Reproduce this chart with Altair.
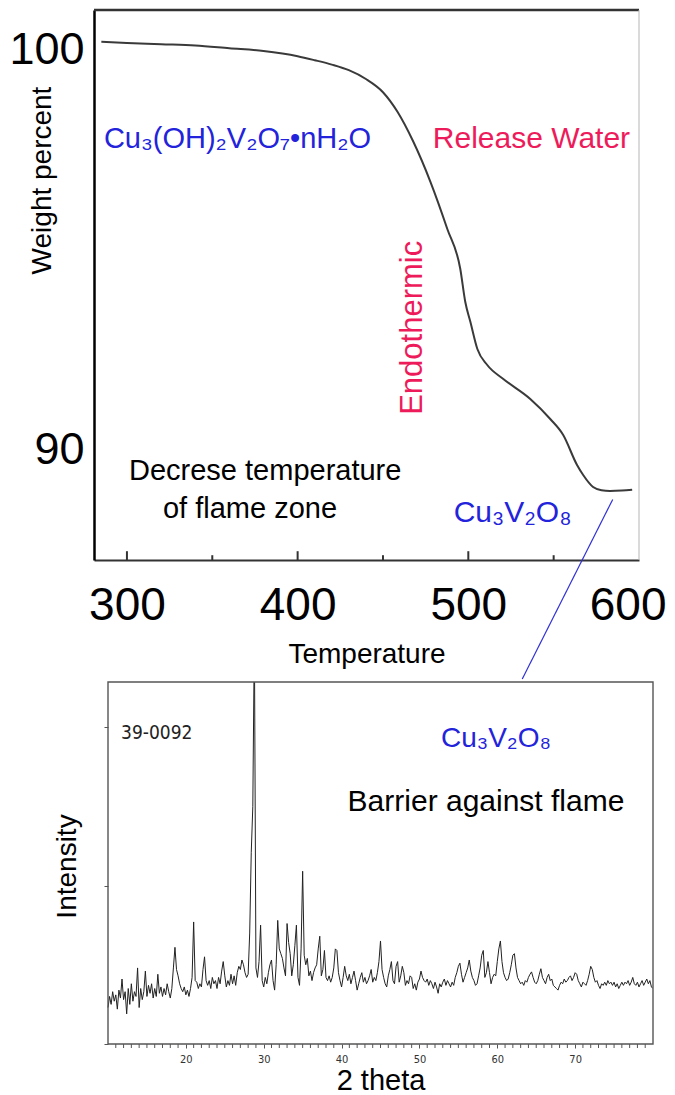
import altair as alt
import pandas as pd

# ---------------- data: TGA curve (top panel) ----------------
tga_temperature = [285, 300, 320, 340, 360, 380, 400, 410, 420, 430, 440, 450,
                   458.5, 467.8, 477.8, 487.7, 495.3, 498.2, 501.2, 505.3, 511.1,
                   520.5, 536.3, 548, 555.6, 563.7, 567.3, 573.1, 578, 583, 590, 596]
tga_weight = [100.18, 100.15, 100.12, 100.09, 100.02, 99.95, 99.82, 99.72, 99.61,
              99.47, 99.25, 98.92, 98.43, 97.68, 96.68, 95.5, 94.5, 93.68, 93.18,
              92.5, 92.1, 91.75, 91.25, 90.75, 90.35, 89.6, 89.35, 89.05, 88.97,
              88.95, 88.96, 88.98]
top_x_labels = [300, 400, 500, 600]
top_y_labels = [90, 100]
top_tick_values = [300, 350, 400, 450, 500, 550]

# ---------------- data: XRD pattern (bottom panel) ----------------
xrd_start = 10.0
xrd_step = 0.2
xrd_intensity = [
    230, 300, 250, 330, 270, 310, 220, 340, 290, 410,
    280, 330, 190, 350, 250, 380, 270, 330, 300, 480,
    230, 350, 280, 330, 460, 300, 370, 320, 380, 290,
    350, 300, 440, 320, 360, 300, 350, 310, 380, 330,
    290, 350, 480, 610, 470, 430, 380, 350, 330, 360,
    310, 340, 300, 350, 420, 770, 400, 390, 350, 380,
    360, 470, 550, 400, 370, 400, 350, 420, 380, 400,
    350, 420, 380, 460, 520, 430, 360, 400, 370, 440,
    380, 430, 370, 450, 490, 470, 530, 500, 450, 420,
    440, 700, 1210, 1500, 2600, 480, 420, 520, 750, 400,
    360, 420, 380, 450, 500, 530, 400, 340, 500, 780,
    600, 570, 540, 480, 430, 760, 640, 570, 430, 500,
    620, 750, 420, 370, 600, 1090, 560, 500, 540, 430,
    460, 400, 450, 480, 500, 600, 680, 430, 470, 590,
    420, 400, 430, 390, 420, 480, 600, 590, 450, 400,
    360, 420, 490, 430, 400, 440, 380, 420, 460, 400,
    340, 380, 420, 450, 390, 420, 380, 400, 430, 470,
    390, 420, 400, 450, 520, 650, 470, 420, 380, 360,
    430, 470, 520, 400, 380, 490, 520, 390, 430, 490,
    450, 370, 400, 380, 430, 420, 350, 380, 340, 390,
    410, 460, 420, 400, 390, 410, 370, 400, 380, 350,
    390, 360, 320, 380, 360, 390, 410, 370, 400, 380,
    360, 390, 370, 420, 450, 490, 510, 440, 390, 420,
    450, 480, 530, 460, 420, 400, 370, 380, 430, 480,
    560, 590, 420, 450, 520, 450, 380, 420, 440, 430,
    520, 600, 650, 520, 450, 420, 400, 410, 450, 500,
    560, 570, 480, 420, 400, 380, 390, 370, 400, 390,
    420, 440, 455, 420, 390, 380, 400, 440, 475, 420,
    400, 380, 420, 440, 400, 410, 370, 360, 350, 340,
    370, 390, 380, 410, 390, 400, 420, 430, 400, 420,
    450, 440, 400, 380, 360, 390, 380, 370, 400, 440,
    490, 470, 420, 390, 400, 370, 350, 380, 370, 390,
    370, 400, 380, 390, 370, 390, 360, 380, 350, 370,
    390, 370, 390, 380, 400, 370, 390, 420, 380, 370,
    390, 360, 380, 400, 370, 390, 410, 380, 400, 360,
    350,
]
bottom_y_ticks = [0, 1000, 2000]
bottom_x_labels = [20, 30, 40, 50, 60, 70]
bottom_x_minor = [v for v in range(11, 80) if v % 10 != 0]

# ---------------- text ----------------
txt_hydrate = "Cu\u2083(OH)\u2082V\u2082O\u2087\u2022nH\u2082O"
txt_release = "Release Water"
txt_endo = "Endothermic"
txt_decrease_1 = "Decrese temperature"
txt_decrease_2 = "of flame zone"
txt_product = "Cu\u2083V\u2082O\u2088"
txt_card = "39-0092"
txt_barrier = "Barrier against flame"

FONT = "Liberation Sans, Arial, sans-serif"
NARROW = "Liberation Sans Narrow, DejaVu Sans Condensed, Arial Narrow, sans-serif"
BLUE = "#2323dc"
PINK = "#ee1b5b"

one = pd.DataFrame({"k": [0]})

# ================= top panel =================
T_MIN, T_MAX = 280.7, 600.0
W_MIN, W_MAX = 87.225, 100.975
xs_top = alt.Scale(domain=[T_MIN, T_MAX], nice=False, zero=False)
ys_top = alt.Scale(domain=[W_MIN, W_MAX], nice=False, zero=False)

tga = pd.DataFrame({"T": tga_temperature, "W": tga_weight})

tga_line = alt.Chart(tga).mark_line(color="#3a3a3a", strokeWidth=2, interpolate="monotone").encode(
    x=alt.X("T:Q", scale=xs_top,
            axis=alt.Axis(values=top_x_labels, tickSize=0, labelFontSize=46, labelPadding=23,
                          labelFlush=True, labelFlushOffset=27, labelColor="black",
                          domainColor="#333", domainWidth=2,
                          grid=False, title="Temperature", titleFontSize=28, titleFontWeight="normal",
                          titlePadding=12, titleColor="black")),
    y=alt.Y("W:Q", scale=ys_top,
            axis=alt.Axis(values=top_y_labels, tickSize=0, labelFontSize=45, labelPadding=10,
                          labelColor="black", domainColor="black", domainWidth=2.5, grid=False,
                          title="Weight percent", titleFontSize=28, titleFontWeight="normal",
                          titleX=-52, titleY=170, titleBaseline="middle", titleColor="black")),
)

tick_df = pd.DataFrame({"T": top_tick_values})
tick_df["base"] = W_MIN
tick_df["top"] = [W_MIN + (0.22 if v % 100 == 0 else 0.12) for v in top_tick_values]
top_ticks = alt.Chart(tick_df).mark_rule(color="#333", strokeWidth=2).encode(
    x="T:Q", y="base:Q", y2="top:Q")

top_border = alt.Chart(one).mark_rule(color="#333", strokeWidth=2.5).encode(
    x=alt.datum(T_MIN), x2=alt.datum(T_MAX), y=alt.datum(W_MAX))
right_border = alt.Chart(one).mark_rule(color="#b5b5b5", strokeWidth=1).encode(
    x=alt.datum(T_MAX), y=alt.datum(W_MIN), y2=alt.datum(W_MAX))

connector = alt.Chart(one).mark_rule(color="#3030d8", strokeWidth=1.2).encode(
    x=alt.datum(584.6), y=alt.datum(88.74), x2=alt.datum(531.6), y2=alt.datum(84.25))

def label(text, x, y, size, color, align="left", angle=0, font=FONT):
    kw = dict(text=text, fontSize=size, color=color, align=align, baseline="middle", font=font)
    if angle:
        kw["angle"] = angle
    return alt.Chart(one).mark_text(**kw).encode(x=alt.datum(x), y=alt.datum(y))

top = alt.layer(
    tga_line, top_ticks, top_border, right_border, connector,
    label(txt_hydrate, 286.5, 97.75, 29, BLUE),
    label(txt_release, 537, 97.75, 30, PINK, align="center"),
    label(txt_endo, 467.4, 93.03, 31, PINK, align="center", angle=270),
    label(txt_decrease_1, 301.2, 89.45, 29, "black"),
    label(txt_decrease_2, 321.1, 88.5, 29, "black"),
    label(txt_product, 491.4, 88.4, 30, BLUE),
).properties(width=545, height=550)

# ================= bottom panel =================
I_MAX = 2284
xs_bot = alt.Scale(domain=[10, 80], range=[14, 559], nice=False, zero=False)
ys_bot = alt.Scale(domain=[0, I_MAX], nice=False, zero=True)

xrd = pd.DataFrame({
    "two_theta": [round(xrd_start + xrd_step * i, 1) for i in range(len(xrd_intensity))],
    "I": xrd_intensity,
})

xrd_line = alt.Chart(xrd).mark_line(color="#222", strokeWidth=1, clip=True).encode(
    x=alt.X("two_theta:Q", scale=xs_bot,
            axis=alt.Axis(values=bottom_x_labels, tickSize=4, tickColor="#555",
                          labelFont=NARROW, labelFontSize=11, labelColor="#333", labelPadding=5,
                          labelFlush=False, domain=False, grid=False,
                          title="2 theta", titleFontSize=29, titleFontWeight="normal",
                          titleY=45, titleBaseline="alphabetic", titleColor="black")),
    y=alt.Y("I:Q", scale=ys_bot,
            axis=alt.Axis(values=bottom_y_ticks, tickSize=4, tickColor="#555", labels=False,
                          domain=False, grid=False, offset=-14,
                          title="Intensity", titleFontSize=28, titleFontWeight="normal",
                          titleX=-41, titleY=184, titleBaseline="middle", titleColor="black")),
)

minor_df = pd.DataFrame({"two_theta": bottom_x_minor})
minor_df["base"] = 0
minor_df["low"] = -4 * I_MAX / 362
minor_ticks = alt.Chart(minor_df).mark_rule(color="#555", strokeWidth=1).encode(
    x="two_theta:Q", y="base:Q", y2="low:Q")

frame = alt.Chart(one).mark_rect(fillOpacity=0, stroke="#555", strokeWidth=1.4).encode(
    x=alt.datum(10), x2=alt.datum(80), y=alt.datum(0), y2=alt.datum(I_MAX))

bottom = alt.layer(
    xrd_line, minor_ticks, frame,
    label(txt_card, 11.67, 1962, 19, "#222", font=NARROW),
    label(txt_product, 52.77, 1924, 28, BLUE),
    label(txt_barrier, 58.55, 1527, 30, "black", align="center"),
).properties(width=559, height=362)

chart = alt.vconcat(top, bottom, spacing=1).properties(
    padding={"left": 0, "top": 0, "right": 0, "bottom": 0}
).configure(font=FONT).configure_view(strokeWidth=0)

chart.save("out.html", embed_options={"renderer": "svg", "actions": False})
